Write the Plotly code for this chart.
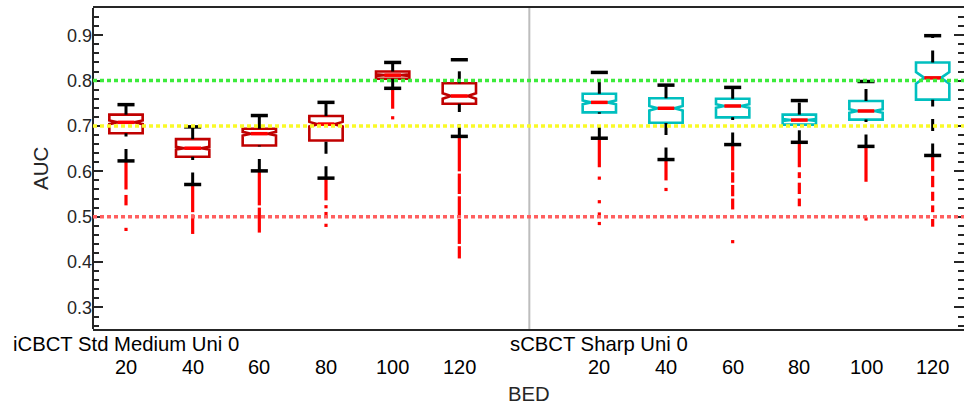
import plotly.graph_objects as go

groups = ["iCBCT Std Medium Uni 0", "sCBCT Sharp Uni 0"]
bed = ["20", "40", "60", "80", "100", "120"]
box_colors = ["#c00000", "#00bfbf"]

# per box (group 1: 6 boxes, group 2: 6 boxes)
q1 = [0.684, 0.632, 0.657, 0.668, 0.804, 0.749,
      0.730, 0.707, 0.719, 0.703, 0.714, 0.758]
median = [0.708, 0.651, 0.683, 0.704, 0.812, 0.766,
          0.752, 0.739, 0.744, 0.713, 0.733, 0.806]
q3 = [0.725, 0.671, 0.694, 0.722, 0.820, 0.794,
      0.771, 0.761, 0.760, 0.725, 0.755, 0.840]
lower_whisker = [0.623, 0.571, 0.601, 0.585, 0.783, 0.677,
                 0.673, 0.626, 0.659, 0.664, 0.655, 0.635]
upper_whisker = [0.747, 0.698, 0.723, 0.752, 0.840, 0.846,
                 0.818, 0.790, 0.785, 0.756, 0.798, 0.899]
notch = [0.004, 0.003, 0.004, 0.005, 0.002, 0.006,
         0.004, 0.005, 0.004, 0.002, 0.004, 0.013]
# dense runs of outliers (top, bottom)
outlier_runs = [
    [(0.623, 0.560), (0.548, 0.525)],
    [(0.571, 0.510), (0.505, 0.462)],
    [(0.601, 0.525), (0.520, 0.465)],
    [(0.585, 0.536)],
    [(0.783, 0.738)],
    [(0.677, 0.600), (0.595, 0.550), (0.545, 0.500), (0.495, 0.440), (0.435, 0.408)],
    [(0.673, 0.609)],
    [(0.626, 0.580)],
    [(0.659, 0.602), (0.598, 0.575), (0.570, 0.545), (0.540, 0.516)],
    [(0.664, 0.609), (0.598, 0.585), (0.575, 0.550), (0.540, 0.523)],
    [(0.655, 0.577)],
    [(0.635, 0.600), (0.590, 0.565), (0.555, 0.535), (0.525, 0.510), (0.495, 0.478)],
]
# isolated outliers
outlier_points = [
    [0.472], [], [], [0.522, 0.507, 0.481], [0.718], [],
    [0.585, 0.533, 0.506, 0.485], [0.560], [0.445], [], [0.495], [],
]
ref_lines = [0.8, 0.7, 0.5]
ref_colors = ["rgb(60,235,60)", "rgb(250,250,40)", "rgb(255,95,95)"]

# layout positions
group_offset = [0.0, 7.1]
positions = [g_off + 1 + i for g_off in group_offset for i in range(len(bed))]
BOX_W = 0.5
CAP_HALF = 0.128
MED_HALF = 0.125
divider_x = (positions[5] + positions[6]) / 2

FONT = "Liberation Sans, Arial, sans-serif"
TXT = "#262626"

fig = go.Figure()

fig.add_shape(type="line", xref="x", yref="paper", x0=divider_x, x1=divider_x,
              y0=0, y1=1, line=dict(color="#bdbdbd", width=2), layer="below")
# left axis line
fig.add_shape(type="line", xref="paper", yref="paper", x0=0, x1=0, y0=0, y1=1,
              line=dict(color=TXT, width=2), layer="above")

for g in range(2):
    idx = list(range(g * 6, g * 6 + 6))
    fig.add_trace(go.Box(
        x=[positions[i] for i in idx],
        q1=[q1[i] for i in idx],
        median=[median[i] for i in idx],
        q3=[q3[i] for i in idx],
        lowerfence=[q1[i] for i in idx],
        upperfence=[q3[i] for i in idx],
        notchspan=[notch[i] for i in idx],
        notched=True, notchwidth=0.25,
        width=BOX_W, whiskerwidth=0,
        line=dict(color=box_colors[g], width=2.6),
        fillcolor="rgba(0,0,0,0)",
        boxpoints=False, showlegend=False, hoverinfo="skip",
    ))

for i, p in enumerate(positions):
    # outlier runs
    for top, bot in outlier_runs[i]:
        fig.add_trace(go.Scatter(x=[p, p], y=[top, bot], mode="lines",
                                 line=dict(color="#ff0000", width=3.2),
                                 showlegend=False, hoverinfo="skip"))
    if outlier_points[i]:
        fig.add_trace(go.Scatter(x=[p] * len(outlier_points[i]), y=outlier_points[i],
                                 mode="markers",
                                 marker=dict(symbol="square", size=3.2, color="#ff0000",
                                             line=dict(width=0)),
                                 showlegend=False, hoverinfo="skip"))
    # whiskers (dashed black)
    fig.add_trace(go.Scatter(x=[p, p], y=[q3[i], upper_whisker[i]], mode="lines",
                             line=dict(color="black", width=3, dash="12px,12.5px"),
                             showlegend=False, hoverinfo="skip"))
    fig.add_trace(go.Scatter(x=[p, p], y=[lower_whisker[i], q1[i]], mode="lines",
                             line=dict(color="black", width=3, dash="12px,12.5px"),
                             showlegend=False, hoverinfo="skip"))
    # caps
    for yv in (upper_whisker[i], lower_whisker[i]):
        fig.add_trace(go.Scatter(x=[p - CAP_HALF, p + CAP_HALF], y=[yv, yv], mode="lines",
                                 line=dict(color="black", width=3.5),
                                 showlegend=False, hoverinfo="skip"))
    # median
    fig.add_trace(go.Scatter(x=[p - MED_HALF, p + MED_HALF], y=[median[i], median[i]],
                             mode="lines", line=dict(color="#ff0000", width=3.5),
                             showlegend=False, hoverinfo="skip"))

for yv, c in zip(ref_lines, ref_colors):
    fig.add_shape(type="line", xref="paper", yref="y", x0=0, x1=1, y0=yv, y1=yv,
                  line=dict(color=c, width=3.5, dash="4px,3px"), layer="above")

annotations = []
for g in range(2):
    annotations.append(dict(x=positions[g * 6], y=0, xref="x", yref="paper",
                            text=groups[g], showarrow=False, yanchor="middle",
                            xanchor="center", yshift=-15,
                            font=dict(size=20.3, color="black", family=FONT)))
for i, p in enumerate(positions):
    annotations.append(dict(x=p, y=0, xref="x", yref="paper", text=bed[i % 6],
                            showarrow=False, yanchor="middle", xanchor="center",
                            yshift=-38, font=dict(size=20, color="black", family=FONT)))
annotations.append(dict(x=divider_x, y=0, xref="x", yref="paper", text="BED",
                        showarrow=False, yanchor="middle", xanchor="center", yshift=-65,
                        font=dict(size=20.3, color=TXT, family=FONT)))
annotations.append(dict(x=0, y=0.5, xref="paper", yref="paper", text="AUC",
                        showarrow=False, textangle=-90, xanchor="center",
                        yanchor="middle", xshift=-52.5,
                        font=dict(size=20.5, color=TXT, family=FONT)))

fig.update_layout(
    width=964, height=407,
    margin=dict(l=93, r=0, t=8, b=78),
    plot_bgcolor="white", paper_bgcolor="white",
    boxmode="overlay",
    annotations=annotations,
    xaxis=dict(range=[0.505, 13.57], showgrid=False, zeroline=False,
               showticklabels=False, ticks="",
               showline=True, linecolor=TXT, linewidth=2, mirror=True),
    yaxis=dict(range=[0.2525, 0.96], showgrid=False, zeroline=False,
               tick0=0.3, dtick=0.1, tickformat=".1f",
               ticks="inside", ticklen=10, tickwidth=1.5, tickcolor=TXT,
               showline=False, mirror="allticks",
               tickfont=dict(size=18, color=TXT, family=FONT),
               minor=dict(dtick=0.02, ticks="inside", ticklen=6, tickwidth=1.5,
                          tickcolor=TXT)),
)

fig.write_html("out.html", config={"displayModeBar": False},
               post_script="document.body.style.margin='0';document.body.style.overflow='hidden';")
